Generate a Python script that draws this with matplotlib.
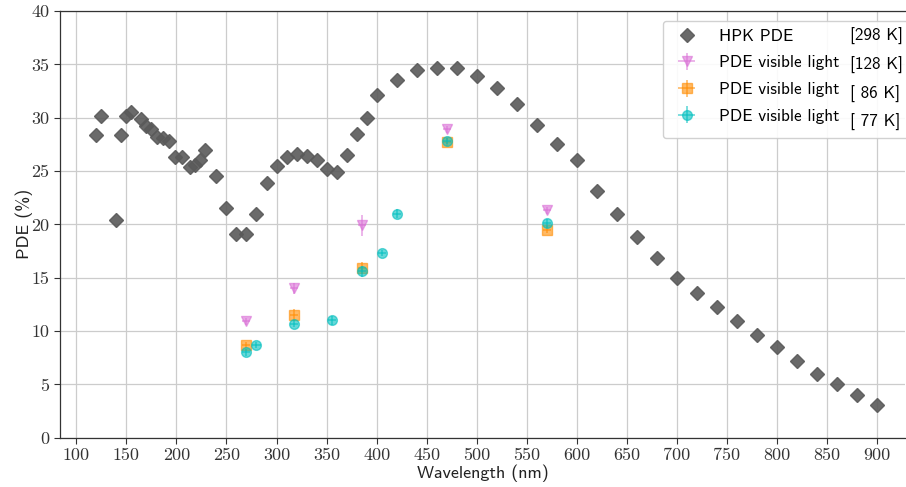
import matplotlib
matplotlib.use("Agg")
import matplotlib.pyplot as plt
from matplotlib.lines import Line2D

# HPK PDE at 298 K
hpk_wl = [120, 125, 140, 145, 150, 155, 165, 170, 175, 181, 187, 193, 199, 206, 214, 219, 224, 229,
          240, 250, 260, 270, 280, 290, 300, 310, 320, 330, 340, 350, 360, 370, 380, 390, 400,
          420, 440, 460, 480, 500, 520, 540, 560, 580, 600, 620, 640, 660, 680, 700, 720, 740,
          760, 780, 800, 820, 840, 860, 880, 900]
hpk_pde = [28.4, 30.2, 20.4, 28.4, 30.2, 30.5, 29.9, 29.2, 28.9, 28.2, 28.1, 27.8, 26.3, 26.3, 25.4, 25.6, 26.0, 27.0,
           24.5, 21.5, 19.1, 19.1, 21.0, 23.9, 25.5, 26.3, 26.6, 26.4, 26.0, 25.2, 24.9, 26.5, 28.5, 30.0, 32.1,
           33.5, 34.5, 34.7, 34.7, 33.9, 32.8, 31.3, 29.3, 27.5, 26.0, 23.1, 21.0, 18.8, 16.8, 15.0, 13.6, 12.3,
           10.9, 9.6, 8.5, 7.2, 6.0, 5.0, 4.0, 3.1]

# visible light measurements
wl_128 = [270, 317, 385, 470, 570]
pde_128 = [10.9, 14.0, 19.9, 28.9, 21.3]
err_128 = [0.3, 0.5, 1.0, 0.3, 0.3]

wl_86 = [270, 317, 385, 470, 570]
pde_86 = [8.7, 11.5, 15.9, 27.7, 19.5]
err_86 = [0.3, 0.6, 0.6, 0.4, 0.3]

wl_77 = [270, 280, 317, 355, 385, 405, 420, 470, 570]
pde_77 = [8.0, 8.7, 10.7, 11.0, 15.6, 17.3, 21.0, 27.8, 20.1]
err_77 = [0.3, 0.3, 0.3, 0.4, 0.5, 0.3, 0.4, 0.3, 0.4]

xerr = 4

labels = ["HPK PDE", "PDE visible light", "PDE visible light", "PDE visible light"]
temps = ["[298 K]", "[128 K]", "[ 86 K]", "[ 77 K]"]

fig = plt.figure(figsize=(9.06, 4.87), dpi=100)
ax = fig.add_axes([0.0662, 0.1012, 0.9325, 0.8762])

ax.grid(True, color="#cccccc", linewidth=0.9, zorder=0)
ax.set_axisbelow(True)

h0, = ax.plot(hpk_wl, hpk_pde, linestyle="none", marker="D", ms=7, color="#5a5a5a",
              alpha=0.9, zorder=3)
h1 = ax.errorbar(wl_128, pde_128, yerr=err_128, xerr=xerr, fmt="v", ms=7, color="orchid",
                 alpha=0.6, elinewidth=1.2, capsize=0, zorder=4)
h2 = ax.errorbar(wl_86, pde_86, yerr=err_86, xerr=xerr, fmt="s", ms=7, color="darkorange",
                 alpha=0.6, elinewidth=1.2, capsize=0, zorder=4)
h3 = ax.errorbar(wl_77, pde_77, yerr=err_77, xerr=xerr, fmt="o", ms=7, color="c",
                 alpha=0.6, elinewidth=1.2, capsize=0, zorder=5)

ax.set_xlim(83.7, 927.6)
ax.set_ylim(0, 40)
ax.set_xticks(range(100, 901, 50))
ax.set_yticks(range(0, 41, 5))
for lab in ax.get_xticklabels() + ax.get_yticklabels():
    lab.set_fontfamily("cmr10")
    lab.set_fontsize(13)
ax.tick_params(direction="out", length=4, width=0.8, colors="#333333", labelcolor="#333333")

ax.set_xlabel("Wavelength (nm)", fontfamily="cmss10", fontsize=13, color="#222222", labelpad=0.5)
ax.set_ylabel("PDE (%)", fontfamily="cmss10", fontsize=13, color="#222222", labelpad=-1)

for s in ["left", "bottom", "top"]:
    ax.spines[s].set_color("#333333")
    ax.spines[s].set_linewidth(0.9)
ax.spines["right"].set_visible(False)

blank = Line2D([], [], linestyle="none")
handles = [h0, h1, h2, h3, blank, blank, blank, blank]
leg = ax.legend(handles, labels + temps, ncol=2, loc="upper right",
                bbox_to_anchor=(1.004, 1 - 21 / 487), bbox_transform=fig.transFigure,
                prop={"family": "cmss10", "size": 12.3}, columnspacing=-2.3,
                handletextpad=0.9, framealpha=0.9, edgecolor="#cccccc",
                borderaxespad=0.0, labelspacing=0.68)
fig.savefig("out.png", dpi=100)
